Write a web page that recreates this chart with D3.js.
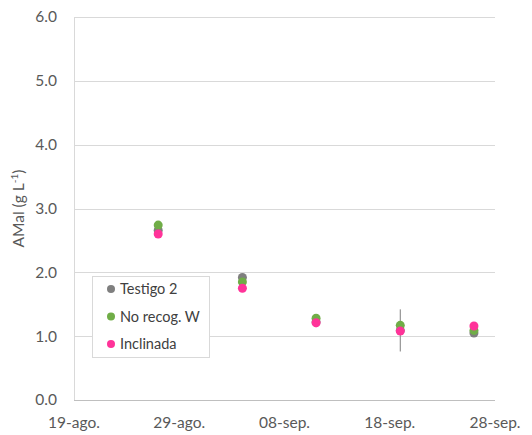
<!DOCTYPE html>
<html>
<head>
<meta charset="utf-8">
<style>
  body { margin: 0; background: #fff; }
  text { font-family: Lato, "Open Sans", sans-serif; fill: #595959; }
</style>
</head>
<body>
<div id="chart"></div>
<script src="https://cdn.jsdelivr.net/npm/d3@7"></script>
<script>
var dates = ["2021-08-27", "2021-09-04", "2021-09-11", "2021-09-19", "2021-09-26"];
var testigo = [2.66, 1.92, 1.22, 1.09, 1.05];
var testigoErr = [0.06, 0.04, 0.08, 0.33, 0.02];
var noRecog = [2.74, 1.85, 1.28, 1.17, 1.09];
var inclinada = [2.60, 1.75, 1.21, 1.08, 1.16];
var inclinadaErr = [0.06, 0.02, 0.03, 0.02, 0.02];
var seriesNames = ["Testigo 2", "No recog. W", "Inclinada"];
var seriesColors = ["#7f7f7f", "#70ad47", "#ff3399"];
var xTicks = ["2021-08-19", "2021-08-29", "2021-09-08", "2021-09-18", "2021-09-28"];
var yTicks = [0, 1, 2, 3, 4, 5, 6];

var parse = d3.timeParse("%Y-%m-%d");
var W = 532, H = 435;
var svg = d3.select("#chart").append("svg").attr("width", W).attr("height", H);

var x = d3.scaleTime().domain([parse(xTicks[0]), parse(xTicks[4])]).range([74, 495]);
var y = d3.scaleLinear().domain([0, 6]).range([400, 17]);

// gridlines
svg.append("g").selectAll("line").data(yTicks.slice(1)).join("line")
  .attr("x1", 74).attr("x2", 495)
  .attr("y1", function(d){ return Math.round(y(d)) + 0.5; })
  .attr("y2", function(d){ return Math.round(y(d)) + 0.5; })
  .attr("stroke", "#d9d9d9").attr("stroke-width", 1);

// axes lines
svg.append("line").attr("x1", 74.5).attr("x2", 74.5).attr("y1", y(6)).attr("y2", y(0))
  .attr("stroke", "#d9d9d9");
svg.append("line").attr("x1", 74).attr("x2", 495).attr("y1", Math.round(y(0)) + 0.5).attr("y2", Math.round(y(0)) + 0.5)
  .attr("stroke", "#bfbfbf");

// y tick labels
svg.append("g").selectAll("text").data(yTicks).join("text")
  .attr("x", 57).attr("y", function(d){ return y(d); })
  .attr("dy", "0.35em").attr("text-anchor", "end")
  .style("font-size", "15.5px")
  .text(function(d){ return d3.format(".1f")(d); });

// x tick labels
svg.append("g").selectAll("text").data(xTicks).join("text")
  .attr("x", function(d){ return x(parse(d)); }).attr("y", 423)
  .attr("dy", "0.35em").attr("text-anchor", "middle")
  .style("font-size", "15.5px")
  .text(function(d){ return d3.timeFormat("%d")(parse(d)) + "-" + (parse(d).getMonth() === 7 ? "ago." : "sep."); });

// y axis title
var yt = svg.append("text")
  .attr("transform", "translate(24," + y(3) + ") rotate(-90)")
  .attr("text-anchor", "middle")
  .style("font-size", "15.5px");
yt.append("tspan").text("AMal (g L");
yt.append("tspan").text("-1").attr("dy", "-6").style("font-size", "10px");
yt.append("tspan").text(")").attr("dy", "6");

// error bars
function errBars(vals, errs, color) {
  svg.append("g").selectAll("line").data(vals).join("line")
    .attr("x1", function(d, i){ return x(parse(dates[i])); })
    .attr("x2", function(d, i){ return x(parse(dates[i])); })
    .attr("y1", function(d, i){ return y(d - errs[i]); })
    .attr("y2", function(d, i){ return y(d + errs[i]); })
    .attr("stroke", color).attr("stroke-width", 1);
}
errBars(testigo, testigoErr, "#7f7f7f");
errBars(inclinada, inclinadaErr, "#7f7f7f");

// points
[testigo, noRecog, inclinada].forEach(function(vals, k) {
  svg.append("g").selectAll("circle").data(vals).join("circle")
    .attr("cx", function(d, i){ return x(parse(dates[i])); })
    .attr("cy", function(d){ return y(d); })
    .attr("r", 4.5)
    .attr("fill", seriesColors[k]);
});

// legend
var lg = svg.append("g").attr("transform", "translate(92,276)");
lg.append("rect").attr("x", 0.5).attr("y", 0.5).attr("width", 117).attr("height", 81)
  .attr("fill", "#fff").attr("stroke", "#d9d9d9");
seriesNames.forEach(function(n, i) {
  var yy = 13 + i * 27.5;
  lg.append("circle").attr("cx", 19).attr("cy", yy).attr("r", 4).attr("fill", seriesColors[i]);
  lg.append("text").attr("x", 28).attr("y", yy).attr("dy", "0.35em")
    .style("font-size", "14.5px").style("fill", "#404040").text(n);
});
</script>
</body>
</html>
